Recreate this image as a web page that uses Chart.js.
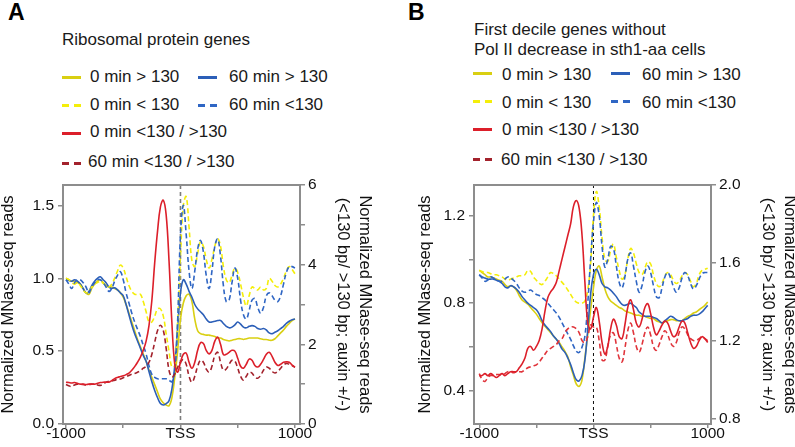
<!DOCTYPE html>
<html>
<head>
<meta charset="UTF-8">
<title>MNase-seq profiles</title>
<script src="https://cdn.jsdelivr.net/npm/chart.js"></script>
<style>
  body { margin:0; width:795px; height:447px; overflow:hidden; background:#fff; position:relative;
         font-family:"Liberation Sans", Arial, sans-serif; color:#1a1a1a; }
  .letter { position:absolute; font-weight:bold; font-size:23px; line-height:23px; color:#000; }
  .txt { position:absolute; font-size:17px; line-height:17px; white-space:nowrap; }
  .sw { position:absolute; width:19px; height:3px; }
  .plot { position:absolute; }
</style>
</head>
<body>

<div class="letter" style="left:8px; top:1px;">A</div>
<div class="letter" style="left:408px; top:1px;">B</div>

<!-- legend, panel A -->
<div class="txt" style="left:62px; top:31px;">Ribosomal protein genes</div>
<div class="sw" style="left:62px; top:76px; background:#d9cf12;"></div>
<div class="txt" style="left:90px; top:68px;">0 min &gt; 130</div>
<div class="sw" style="left:198px; top:76px; background:#2c5fb8;"></div>
<div class="txt" style="left:229px; top:68px;">60 min &gt; 130</div>
<div class="sw" style="left:62px; top:104px; background:repeating-linear-gradient(90deg,#f4ee0a 0 7px,transparent 7px 12px);"></div>
<div class="txt" style="left:90px; top:96px;">0 min &lt; 130</div>
<div class="sw" style="left:198px; top:104px; background:repeating-linear-gradient(90deg,#2f66c4 0 7px,transparent 7px 12px);"></div>
<div class="txt" style="left:229px; top:96px;">60 min &lt;130</div>
<div class="sw" style="left:62px; top:132px; background:#dc1f2a;"></div>
<div class="txt" style="left:90px; top:123px;">0 min &lt;130 / &gt;130</div>
<div class="sw" style="left:62px; top:162px; background:repeating-linear-gradient(90deg,#a3222c 0 7px,transparent 7px 12px);"></div>
<div class="txt" style="left:88px; top:153px;">60 min &lt;130 / &gt;130</div>

<!-- legend, panel B -->
<div class="txt" style="left:474px; top:21px;">First decile genes without</div>
<div class="txt" style="left:474px; top:41px;">Pol II decrease in sth1-aa cells</div>
<div class="sw" style="left:473px; top:72px; background:#d9cf12;"></div>
<div class="txt" style="left:502px; top:66px;">0 min &gt; 130</div>
<div class="sw" style="left:611px; top:72px; background:#2c5fb8;"></div>
<div class="txt" style="left:642px; top:66px;">60 min &gt; 130</div>
<div class="sw" style="left:473px; top:100px; background:repeating-linear-gradient(90deg,#f4ee0a 0 7px,transparent 7px 12px);"></div>
<div class="txt" style="left:502px; top:94px;">0 min &lt; 130</div>
<div class="sw" style="left:611px; top:100px; background:repeating-linear-gradient(90deg,#2f66c4 0 7px,transparent 7px 12px);"></div>
<div class="txt" style="left:642px; top:94px;">60 min &lt;130</div>
<div class="sw" style="left:473px; top:128px; background:#dc1f2a;"></div>
<div class="txt" style="left:502px; top:121px;">0 min &lt;130 / &gt;130</div>
<div class="sw" style="left:473px; top:158px; background:repeating-linear-gradient(90deg,#a3222c 0 7px,transparent 7px 12px);"></div>
<div class="txt" style="left:501px; top:151px;">60 min &lt;130 / &gt;130</div>

<canvas id="chartA" class="plot" width="397" height="277" style="left:0; top:170px;"></canvas>
<canvas id="chartB" class="plot" width="410" height="277" style="left:400px; top:170px;"></canvas>

<script>
// distance from TSS (bp), shared by every profile
const positions = [-1000,-975,-950,-925,-900,-875,-850,-825,-800,-775,-750,-725,-700,-675,-650,-625,-600,-575,-550,-525,
  -500,-475,-450,-425,-400,-375,-350,-325,-300,-275,-250,-225,-200,-175,-150,-125,-100,-75,-50,-25,
  0,25,50,75,100,125,150,175,200,225,250,275,300,325,350,375,400,425,450,475,
  500,525,550,575,600,625,650,675,700,725,750,775,800,825,850,875,900,925,950,975,1000];

// tick values and labels
const xTicks = [-1000, -500, 0, 500, 1000];
const xTickText = {'-1000': '-1000', '0': 'TSS', '1000': '1000'};
const aLeftTicks = [0, 0.5, 1.0, 1.5];
const aRightTicks = [0, 1, 2, 3, 4, 5, 6];
const aRightLabelled = [0, 2, 4, 6];
const bLeftTicks = [0.4, 0.6, 0.8, 1.0, 1.2];
const bLeftLabelled = [0.4, 0.8, 1.2];
const bRightTicks = [0.8, 1.2, 1.6, 2.0];

// ---- panel A: ribosomal protein genes ----
const aYellowOver = [1.00,0.99,0.98,0.98,0.97,0.96,0.93,0.90,0.89,0.93,0.96,0.98,0.99,0.97,0.95,0.94,0.94,0.93,0.92,0.90,
  0.87,0.82,0.76,0.70,0.64,0.58,0.53,0.48,0.43,0.37,0.32,0.27,0.22,0.17,0.145,0.13,0.125,0.18,0.32,0.50,
  0.72,0.83,0.88,0.89,0.84,0.72,0.64,0.62,0.615,0.61,0.61,0.605,0.60,0.59,0.59,0.58,0.575,0.57,0.575,0.58,
  0.585,0.585,0.58,0.585,0.59,0.59,0.59,0.59,0.585,0.58,0.58,0.575,0.575,0.585,0.605,0.625,0.645,0.67,0.69,0.71,0.72];
const aBlueOver = [0.99,0.985,0.98,0.99,0.98,0.96,0.93,0.90,0.91,0.95,0.98,1.00,1.01,0.99,0.97,0.94,0.93,0.935,0.92,0.90,
  0.88,0.82,0.75,0.68,0.62,0.57,0.52,0.47,0.43,0.36,0.29,0.23,0.18,0.14,0.13,0.14,0.16,0.24,0.40,0.66,
  0.90,0.99,0.96,0.91,0.87,0.82,0.79,0.77,0.75,0.72,0.70,0.70,0.705,0.71,0.71,0.69,0.67,0.66,0.665,0.68,
  0.70,0.685,0.665,0.66,0.67,0.675,0.67,0.655,0.65,0.655,0.645,0.625,0.62,0.63,0.64,0.655,0.67,0.69,0.705,0.715,0.72];
const aYellowUnder = [1.00,0.99,0.97,0.96,0.97,0.95,0.92,0.90,0.91,0.94,0.96,0.97,0.98,0.965,0.95,0.94,0.96,1.00,1.05,1.09,
  1.07,1.01,0.95,0.91,0.89,0.89,0.89,0.84,0.77,0.70,0.70,0.74,0.79,0.79,0.74,0.62,0.50,0.39,0.40,0.70,
  1.15,1.50,1.56,1.35,1.12,1.08,1.17,1.25,1.22,1.13,1.07,1.13,1.22,1.27,1.22,1.08,0.99,0.97,1.02,1.07,
  1.04,0.96,0.87,0.81,0.88,0.94,0.93,0.92,0.94,0.92,0.93,1.00,0.98,0.95,0.94,0.96,1.00,1.05,1.08,1.06,1.03];
const aBlueUnder = [0.99,0.96,0.93,0.97,0.99,0.99,0.97,0.94,0.90,0.94,0.97,0.99,0.99,0.97,0.94,0.91,0.93,0.98,1.02,1.045,
  0.99,0.90,0.83,0.76,0.70,0.65,0.60,0.54,0.48,0.40,0.34,0.32,0.31,0.31,0.31,0.31,0.30,0.29,0.36,0.70,
  1.30,1.50,1.30,1.05,0.93,1.05,1.20,1.26,1.18,1.02,0.93,1.05,1.22,1.27,1.15,0.95,0.84,0.85,0.97,1.07,
  1.00,0.85,0.75,0.72,0.78,0.85,0.86,0.80,0.76,0.80,0.88,0.90,0.88,0.85,0.84,0.88,0.96,1.04,1.08,1.08,1.07];
const aRatio0 = [1.05,1.04,1.03,1.04,1.02,1.00,1.00,0.99,1.00,1.00,1.00,1.02,1.04,1.05,1.05,1.05,1.09,1.14,1.17,1.19,
  1.21,1.24,1.28,1.35,1.44,1.55,1.68,1.85,2.08,2.47,3.10,4.05,4.85,5.45,5.62,5.25,4.10,2.55,1.50,1.30,
  1.55,1.75,1.78,1.55,1.40,1.55,1.85,2.04,2.02,1.85,1.76,1.85,2.08,2.18,2.00,1.74,1.75,1.80,1.85,1.83,
  1.65,1.45,1.40,1.50,1.63,1.60,1.47,1.43,1.50,1.62,1.75,1.80,1.70,1.55,1.47,1.50,1.55,1.56,1.55,1.48,1.43];
const aRatio60 = [0.99,0.96,0.94,0.98,1.00,1.00,0.99,0.98,0.99,1.00,1.00,0.98,0.97,1.00,1.05,1.07,1.08,1.10,1.12,1.13,
  1.16,1.19,1.22,1.25,1.27,1.30,1.34,1.40,1.45,1.55,1.75,2.05,2.35,2.48,2.35,1.90,1.35,1.18,1.25,1.42,
  1.55,1.62,1.50,1.20,1.05,1.20,1.45,1.60,1.55,1.38,1.30,1.45,1.72,1.80,1.55,1.35,1.38,1.50,1.60,1.58,
  1.40,1.20,1.10,1.20,1.30,1.28,1.18,1.15,1.22,1.35,1.43,1.40,1.32,1.28,1.32,1.40,1.48,1.52,1.50,1.47,1.42];

// ---- panel B: first decile genes without Pol II decrease ----
const bYellowOver = [0.95,0.94,0.93,0.92,0.92,0.915,0.91,0.905,0.90,0.885,0.875,0.88,0.875,0.86,0.835,0.815,0.805,0.795,0.78,0.765,
  0.75,0.73,0.71,0.695,0.68,0.665,0.65,0.635,0.62,0.60,0.58,0.555,0.51,0.47,0.43,0.42,0.45,0.55,0.66,0.77,
  0.87,0.95,0.97,0.92,0.865,0.83,0.81,0.80,0.79,0.78,0.775,0.765,0.76,0.755,0.75,0.745,0.745,0.74,0.74,0.735,
  0.73,0.73,0.72,0.715,0.71,0.715,0.72,0.725,0.725,0.72,0.72,0.72,0.73,0.74,0.745,0.755,0.76,0.77,0.78,0.79,0.805];
const bBlueOver = [0.93,0.92,0.915,0.91,0.91,0.91,0.905,0.90,0.89,0.875,0.87,0.88,0.875,0.865,0.85,0.83,0.815,0.80,0.79,0.78,
  0.77,0.75,0.72,0.70,0.685,0.67,0.65,0.635,0.615,0.59,0.575,0.55,0.52,0.48,0.45,0.445,0.47,0.54,0.68,0.84,
  0.93,0.955,0.93,0.89,0.875,0.87,0.86,0.845,0.83,0.81,0.795,0.79,0.795,0.80,0.79,0.78,0.76,0.75,0.74,0.74,
  0.74,0.735,0.73,0.72,0.71,0.72,0.73,0.74,0.735,0.725,0.72,0.72,0.725,0.73,0.74,0.745,0.745,0.75,0.76,0.775,0.79];
const bYellowUnder = [0.95,0.945,0.94,0.94,0.935,0.93,0.93,0.925,0.92,0.91,0.905,0.91,0.915,0.92,0.925,0.925,0.93,0.95,0.945,0.92,
  0.905,0.89,0.885,0.90,0.92,0.94,0.935,0.925,0.91,0.895,0.88,0.86,0.84,0.82,0.805,0.80,0.80,0.81,0.86,0.98,
  1.20,1.31,1.24,1.10,1.00,0.99,1.04,1.07,1.01,0.95,0.91,0.93,1.00,1.05,1.03,0.98,0.94,0.93,0.96,0.99,
  0.98,0.93,0.89,0.875,0.89,0.925,0.94,0.93,0.905,0.89,0.90,0.925,0.94,0.93,0.90,0.875,0.89,0.93,0.95,0.955,0.96];
const bBlueUnder = [0.93,0.915,0.90,0.905,0.92,0.915,0.905,0.90,0.90,0.91,0.92,0.915,0.905,0.89,0.87,0.855,0.85,0.855,0.86,0.85,
  0.84,0.835,0.825,0.815,0.80,0.785,0.77,0.755,0.735,0.71,0.685,0.66,0.635,0.605,0.58,0.575,0.60,0.65,0.80,1.00,
  1.17,1.26,1.20,1.06,0.965,1.00,1.06,1.05,0.97,0.895,0.87,0.92,1.00,1.03,0.97,0.90,0.85,0.88,0.94,0.97,
  0.94,0.88,0.83,0.825,0.87,0.92,0.94,0.915,0.875,0.85,0.87,0.915,0.94,0.925,0.89,0.865,0.88,0.91,0.935,0.94,0.94];
const bRatio0 = [1.02,1.02,1.03,1.02,1.03,1.02,1.01,1.02,1.03,1.02,1.03,1.04,1.04,1.04,1.06,1.08,1.11,1.16,1.17,1.15,
  1.17,1.20,1.26,1.35,1.42,1.45,1.47,1.50,1.56,1.62,1.68,1.74,1.80,1.89,1.92,1.88,1.74,1.50,1.29,1.26,
  1.32,1.37,1.30,1.19,1.13,1.17,1.26,1.31,1.28,1.22,1.21,1.28,1.37,1.41,1.36,1.29,1.27,1.31,1.37,1.39,
  1.34,1.27,1.23,1.25,1.28,1.30,1.29,1.25,1.22,1.23,1.27,1.30,1.29,1.24,1.19,1.16,1.17,1.20,1.22,1.21,1.19];
const bRatio60 = [1.03,1.00,0.99,1.01,1.02,1.02,1.025,1.025,1.025,1.03,1.04,1.04,1.035,1.04,1.04,1.04,1.05,1.06,1.065,1.07,
  1.075,1.09,1.11,1.13,1.15,1.16,1.17,1.18,1.20,1.21,1.24,1.26,1.27,1.27,1.26,1.24,1.20,1.19,1.22,1.28,
  1.27,1.27,1.20,1.10,1.10,1.17,1.23,1.24,1.18,1.11,1.09,1.16,1.25,1.29,1.24,1.17,1.14,1.18,1.24,1.27,
  1.23,1.17,1.15,1.18,1.22,1.25,1.23,1.19,1.17,1.19,1.24,1.27,1.26,1.23,1.21,1.20,1.20,1.21,1.22,1.21,1.20];

const FONT = '"Liberation Sans", Arial, sans-serif';
const AXIS_GREY = '#8d8d8d';

// frame round the plot area and the dashed TSS marker
const framePlugin = {
  id: 'frame',
  beforeDatasetsDraw(chart, args, opts) {
    const {ctx, chartArea, scales} = chart;
    const x0 = scales.x.getPixelForValue(0);
    ctx.save();
    ctx.strokeStyle = opts.tssColor;
    ctx.lineWidth = opts.tssWidth;
    ctx.setLineDash(opts.tssDash);
    ctx.beginPath();
    ctx.moveTo(x0, chartArea.top);
    ctx.lineTo(x0, chartArea.bottom);
    ctx.stroke();
    ctx.restore();
  },
  afterDraw(chart) {
    const {ctx, chartArea} = chart;
    ctx.save();
    ctx.strokeStyle = AXIS_GREY;
    ctx.lineWidth = 2;
    ctx.strokeRect(chartArea.left, chartArea.top, chartArea.right - chartArea.left, chartArea.bottom - chartArea.top);
    ctx.restore();
  }
};

function line(data, color, axis, dashed) {
  return {
    data: data,
    yAxisID: axis,
    borderColor: color,
    borderWidth: 1.6,
    borderDash: dashed ? [5, 3] : [],
    pointRadius: 0,
    tension: 0.4,
    fill: false
  };
}

function fixedTicks(values) {
  return scale => { scale.ticks = values.map(v => ({value: v})); };
}

function makePanel(id, p) {
  const tickFont = {family: FONT, size: 15.5};
  const grid = {drawOnChartArea: false, drawTicks: true, tickLength: 5, color: AXIS_GREY, lineWidth: 1.5};
  return new Chart(document.getElementById(id), {
    type: 'line',
    data: {
      labels: positions,
      datasets: [
        line(p.ratio0, '#dc1f2a', 'yRight', false),
        line(p.ratio60, p.ratio60Color, 'yRight', true),
        line(p.blueUnder, '#2f66c4', 'yLeft', true),
        line(p.yellowUnder, '#f4ee0a', 'yLeft', true),
        line(p.blueOver, '#2c5fb8', 'yLeft', false),
        line(p.yellowOver, '#d9cf12', 'yLeft', false)
      ]
    },
    options: {
      responsive: false,
      animation: false,
      events: [],
      layout: {padding: {top: 15, right: p.padRight, left: 0, bottom: 0}},
      plugins: {
        legend: {display: false},
        tooltip: {enabled: false},
        frame: {tssColor: p.tssColor, tssWidth: p.tssWidth, tssDash: p.tssDash}
      },
      scales: {
        x: {
          type: 'linear',
          min: p.xMin, max: p.xMax,
          afterBuildTicks: fixedTicks(xTicks),
          afterFit: s => { s.height = 23; },
          border: {display: false},
          grid: Object.assign({}, grid, {tickLength: 4}),
          ticks: {font: tickFont, color: '#111', padding: -4, autoSkip: false, maxRotation: 0,
                  callback: v => xTickText[String(v)] || ''}
        },
        yLeft: {
          position: 'left',
          min: p.leftMin, max: p.leftMax,
          afterBuildTicks: fixedTicks(p.leftTicks),
          afterFit: s => { s.width = p.leftWidth; },
          border: {display: false},
          grid: grid,
          ticks: {font: tickFont, color: '#111', padding: 4, autoSkip: false,
                  callback: v => p.leftLabelled.includes(v) ? v.toFixed(1) : ''},
          title: {display: true, text: 'Normalized MNase-seq reads', color: '#111',
                  font: {family: FONT, size: 16.5, lineHeight: 1.0},
                  padding: {top: p.leftTitlePad, bottom: 0}}
        },
        yRight: {
          position: 'right',
          min: p.rightMin, max: p.rightMax,
          afterBuildTicks: fixedTicks(p.rightTicks),
          afterFit: s => { s.width = p.rightWidth; },
          border: {display: false},
          grid: grid,
          ticks: {font: tickFont, color: '#111', padding: 3, autoSkip: false,
                  callback: v => p.rightLabelled.includes(v) ? p.rightFormat(v) : ''},
          title: {display: true, text: ['Normalized MNase-seq reads', '(<130 bp/ >130 bp; auxin +/-)'], color: '#111',
                  font: {family: FONT, size: 16.5, lineHeight: 1.3},
                  padding: {top: 0, bottom: 0}}
        }
      }
    },
    plugins: [framePlugin]
  });
}

makePanel('chartA', {
  yellowOver: aYellowOver, blueOver: aBlueOver, yellowUnder: aYellowUnder, blueUnder: aBlueUnder,
  ratio0: aRatio0, ratio60: aRatio60, ratio60Color: '#a3222c',
  xMin: -1026, xMax: 1044,
  leftMin: 0, leftMax: 1.64, leftTicks: aLeftTicks, leftLabelled: aLeftTicks, leftWidth: 63, leftTitlePad: 0,
  rightMin: 0, rightMax: 6, rightTicks: aRightTicks, rightLabelled: aRightLabelled, rightWidth: 75,
  rightFormat: v => String(v), padRight: 22,
  tssColor: '#7c7c7c', tssWidth: 1.6, tssDash: [4, 3]
});

makePanel('chartB', {
  yellowOver: bYellowOver, blueOver: bBlueOver, yellowUnder: bYellowUnder, blueUnder: bBlueUnder,
  ratio0: bRatio0, ratio60: bRatio60, ratio60Color: '#e0343b',
  xMin: -1046, xMax: 1029,
  leftMin: 0.248, leftMax: 1.34, leftTicks: bLeftTicks, leftLabelled: bLeftLabelled, leftWidth: 74, leftTitlePad: 17,
  rightMin: 0.771, rightMax: 2.0, rightTicks: bRightTicks, rightLabelled: bRightTicks, rightWidth: 89,
  rightFormat: v => v.toFixed(1), padRight: 10,
  tssColor: '#111', tssWidth: 1, tssDash: [3, 3]
});
</script>
</body>
</html>
